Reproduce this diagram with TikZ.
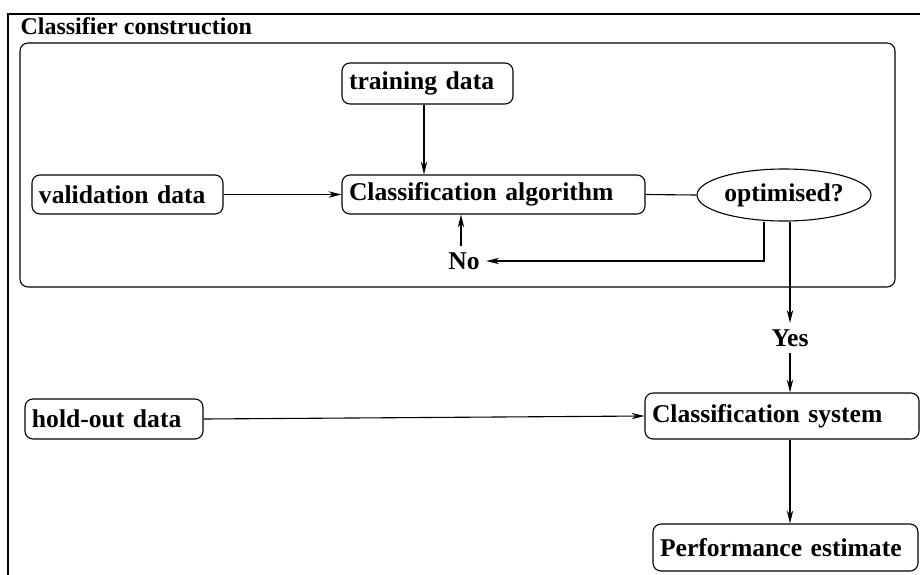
\documentclass[tikz,border=0pt]{standalone}
\usepackage{fontspec}
\setmainfont{Liberation Serif}
\usetikzlibrary{shapes.geometric,arrows.meta}
\tikzset{
  stepbox/.style={draw,rounded corners=4pt,inner xsep=3.5pt,inner ysep=2pt,align=left,font=\bfseries\fontsize{12.8}{15}\selectfont},
  decision/.style={draw,ellipse,inner sep=0pt,font=\bfseries\fontsize{12.8}{15}\selectfont},
  answer/.style={inner sep=3pt,font=\bfseries\fontsize{12.8}{15}\selectfont},
  flow/.style={line width=0.55pt,-{Stealth[length=6.5pt,width=3.2pt]}},
}
\begin{document}
\begin{tikzpicture}[x=0.5pt,y=-0.5pt,line width=0.55pt]
                \clip (0,0) rectangle (920,574);
                %% frames
                \draw[line width=1.1pt] (8,14) rectangle (940,600);
                \node[anchor=base west,inner sep=0pt,font=\bfseries\fontsize{12}{14}\selectfont] (title) at (20,34) {Classifier construction};
                \draw[rounded corners=4pt] (20,43) rectangle (895,287);
                %% boxes
                \node[stepbox,text width=78.5pt,minimum height=20.5pt] (train) at (427.5,83.5) {training data};
                \node[stepbox,text width=88.5pt,minimum height=19.5pt] (valid) at (127.5,194.5) {validation data};
                \node[stepbox,text width=144.5pt,minimum height=19.5pt] (algo) at (493.5,194.5) {Classification algorithm};
                \node[decision,minimum width=87pt,minimum height=26pt] (opt) at (784,195) {optimised?};
                \node[answer] (no) at (464,261) {No};
                \node[answer] (yes) at (790,338) {Yes};
                \node[stepbox,text width=82pt,minimum height=20pt] (hold) at (114,419) {hold-out data};
                \node[stepbox,text width=130pt,minimum height=23pt] (sys) at (782,416) {Classification system};
                \node[stepbox,text width=125.5pt,minimum height=23.5pt] (perf) at (785.5,547.5) {Performance estimate};
                \coordinate (nobend) at (764,261);
                %% connectors
                \draw[flow] (train.south -| 424,0) -- (algo.north -| 424,0);
                \draw[flow] (valid.east) -- (algo.west);
                \draw (algo.east) -- (opt.west);
                \draw[flow] (opt.south -| nobend) |- (no.east);
                \draw[flow] (no.north -| 461,0) -- (algo.south -| 461,0);
                \draw[flow] (opt.south -| yes) -- (yes.north);
                \draw[flow] (yes.south) -- (sys.north -| yes);
                \draw[flow] (hold.east) -- (sys.west);
                \draw[flow] (sys.south -| yes) -- (perf.north -| yes);
            \end{tikzpicture}
\end{document}
